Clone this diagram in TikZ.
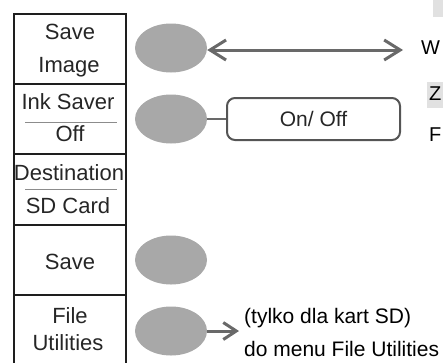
\documentclass[tikz,border=0pt]{standalone}
\usepackage{fontspec}
\setmainfont{Liberation Sans}
\usetikzlibrary{arrows.meta,shapes.geometric}
\definecolor{ellgray}{RGB}{168,168,168}
\definecolor{arrgray}{RGB}{105,105,105}
\definecolor{boxgray}{RGB}{85,85,85}
\definecolor{frame}{RGB}{30,30,30}
\definecolor{sepgray}{RGB}{140,140,140}
\definecolor{hlgray}{RGB}{225,225,225}
\tikzset{
  menutext/.style={font=\fontsize{22}{24}\selectfont, text=black!85, inner sep=0pt},
  softkey/.style={ellipse, fill=ellgray, minimum width=72pt, minimum height=49pt, inner sep=0pt},
  conn/.style={draw=arrgray, line width=3pt},
  optbox/.style={draw=boxgray, line width=2pt, rounded corners=8pt, minimum width=173pt, minimum height=42pt, font=\fontsize{21}{24}\selectfont, text=black!85},
  note/.style={font=\fontsize{21}{24}\selectfont, anchor=west, inner sep=0pt},
  frag/.style={font=\fontsize{20}{24}\selectfont, anchor=west, inner sep=0pt}
}
\begin{document}
\begin{tikzpicture}[x=1pt,y=-1pt]
\useasboundingbox (0,0) rectangle (443,362);
\begin{scope}
\clip (0,0) rectangle (443,362);
% menu frame
\draw[frame, line width=1.8pt] (14,370) -- (14,14) -- (126,14) -- (126,370);
\foreach \yy in {84,154,225,295} \draw[frame, line width=1.8pt] (14,\yy) -- (126,\yy);
\draw[sepgray, line width=1pt] (25,122) -- (117,122);
\draw[sepgray, line width=1pt] (25,189) -- (117,189);
% menu texts
\node[menutext] (t1a) at (70,32) {Save};
\node[menutext] (t1b) at (69,67) {Image};
\node[menutext] (t2a) at (68,102) {Ink Saver};
\node[menutext] (t2b) at (70,134) {Off};
\node[menutext] (t3a) at (69,173) {Destination};
\node[menutext] (t3b) at (68,206) {SD Card};
\node[menutext] (t4) at (70,262) {Save};
\node[menutext] (t5a) at (70,316) {File};
\node[menutext] (t5b) at (68,343) {Utilities};
% soft keys
\node[softkey] (k1) at (171,48) {};
\node[softkey] (k2) at (171,119) {};
\node[softkey] (k4) at (171,260) {};
\node[softkey] (k5) at (171,331) {};
% connectors
\coordinate (e1) at (403,50);
\draw[conn, {Straight Barb[length=16pt,width=20pt]}-{Straight Barb[length=16pt,width=20pt]}] (k1.east |- e1) -- (e1);
\node[optbox] (onoff) at (313.5,119) {On/ Off};
\draw[draw=arrgray, line width=2.5pt] (k2.east) -- (onoff.west);
\coordinate (e5) at (239,331);
\draw[conn, -{Straight Barb[length=13pt,width=17pt]}] (k5.east) -- (e5);
\node[note] (n1) at (244,318) {(tylko dla kart SD)};
\node[note] (n2) at (244,349) {do menu File Utilities};
% fragments at right edge
\fill[hlgray] (433,0) rectangle (443,17);
\fill[hlgray] (427,82) rectangle (443,108);
\node[frag] (fw) at (421,48) {W};
\node[frag] (fz) at (429,94) {Z};
\node[frag] (ff) at (429,135) {F};
\end{scope}
\end{tikzpicture}
\end{document}
